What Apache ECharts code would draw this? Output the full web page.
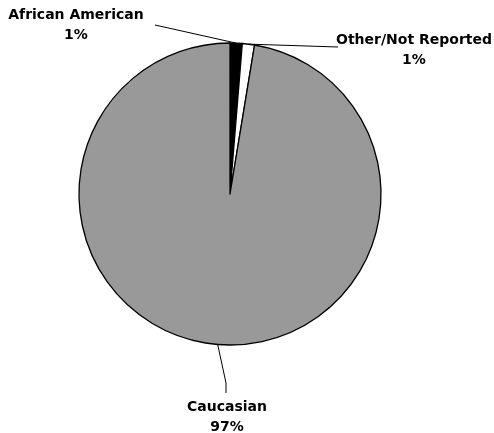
<!DOCTYPE html>
<html>
<head>
<meta charset="utf-8">
<script src="https://cdn.jsdelivr.net/npm/echarts@6/dist/echarts.min.js"></script>
<style>html,body{margin:0;padding:0;background:#fff;}#c{width:494px;height:433px;}</style>
</head>
<body>
<div id="c"></div>
<script>
var categories = ['African American', 'Other/Not Reported', 'Caucasian'];
var values = [1.3, 1.3, 97.4];
var labelsPct = ['1%', '1%', '97%'];
var colors = ['#000000', '#ffffff', '#999999'];

// label placement (layout only)
var labelPos = [
  {x: 76, y: 25, line: [[155, 25]]},
  {x: 414, y: 50, line: [[338, 47]]},
  {x: 227, y: 417, line: [[226, 383], [226, 393]]}
];

var chart = echarts.init(document.getElementById('c'));
var data = categories.map(function (n, i) {
  return {name: n, value: values[i], itemStyle: {color: colors[i]}};
});
chart.setOption({
  animation: false,
  series: [{
    type: 'pie',
    center: [230, 194],
    radius: 151,
    startAngle: 90,
    clockwise: true,
    data: data,
    itemStyle: {borderColor: '#000', borderWidth: 1.3},
    emphasis: {disabled: true},
    label: {
      show: true,
      position: 'outside',
      overflow: 'none',
      width: 200,
      formatter: function (p) { return p.name + '\n' + labelsPct[p.dataIndex]; },
      fontFamily: 'DejaVu Sans',
      fontWeight: 'bold',
      fontSize: 14,
      lineHeight: 20,
      color: '#000',
      align: 'center'
    },
    labelLine: {show: true, lineStyle: {color: '#000', width: 1}},
    labelLayout: function (params) {
      var lp = labelPos[params.dataIndex];
      var start = params.labelLinePoints ? params.labelLinePoints[0] : null;
      var pts = start ? [start].concat(lp.line) : null;
      if (pts && pts.length === 2) { pts = [pts[0], pts[1], pts[1]]; }
      return {
        x: lp.x, y: lp.y, align: 'center', verticalAlign: 'middle',
        labelLinePoints: pts
      };
    }
  }]
});
</script>
</body>
</html>
